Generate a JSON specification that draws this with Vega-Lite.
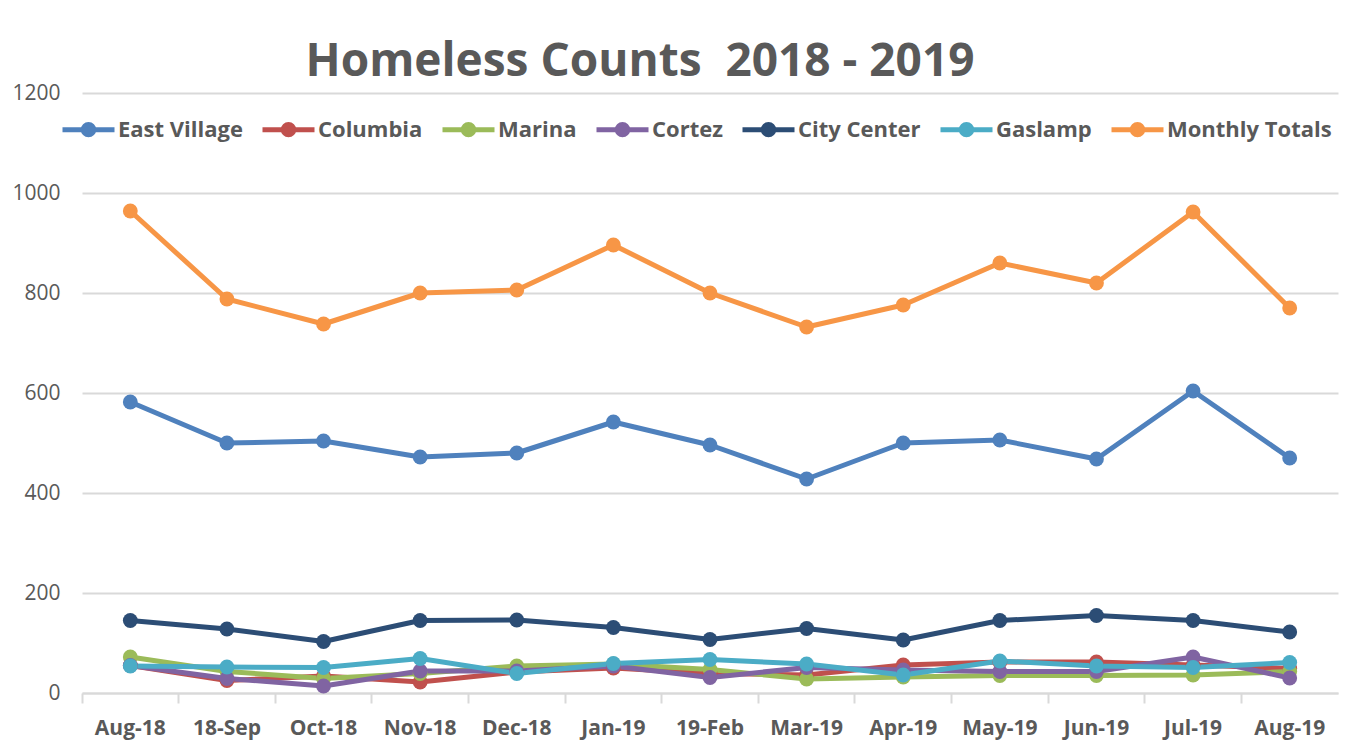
{
  "$schema": "https://vega.github.io/schema/vega-lite/v6.json",
  "autosize": "none",
  "width": 1256,
  "height": 600,
  "padding": {"left": 82, "top": 93, "right": 11, "bottom": 51},
  "background": "white",
  "title": {
    "text": "Homeless Counts\u00a0\u00a02018 - 2019",
    "font": "Open Sans",
    "fontSize": 46,
    "fontWeight": "bold",
    "color": "#595959",
    "anchor": "middle",
    "dx": -70,
    "offset": -4
  },
  "config": {
    "view": {"stroke": null},
    "font": "Open Sans"
  },
  "data": {
    "values": [
      {"month": "Aug-18", "series": "East Village", "count": 582},
      {"month": "18-Sep", "series": "East Village", "count": 500},
      {"month": "Oct-18", "series": "East Village", "count": 504},
      {"month": "Nov-18", "series": "East Village", "count": 472},
      {"month": "Dec-18", "series": "East Village", "count": 480},
      {"month": "Jan-19", "series": "East Village", "count": 542},
      {"month": "19-Feb", "series": "East Village", "count": 496},
      {"month": "Mar-19", "series": "East Village", "count": 428},
      {"month": "Apr-19", "series": "East Village", "count": 500},
      {"month": "May-19", "series": "East Village", "count": 506},
      {"month": "Jun-19", "series": "East Village", "count": 468},
      {"month": "Jul-19", "series": "East Village", "count": 604},
      {"month": "Aug-19", "series": "East Village", "count": 470},
      {"month": "Aug-18", "series": "Columbia", "count": 55},
      {"month": "18-Sep", "series": "Columbia", "count": 25},
      {"month": "Oct-18", "series": "Columbia", "count": 34},
      {"month": "Nov-18", "series": "Columbia", "count": 22},
      {"month": "Dec-18", "series": "Columbia", "count": 42},
      {"month": "Jan-19", "series": "Columbia", "count": 50},
      {"month": "19-Feb", "series": "Columbia", "count": 39},
      {"month": "Mar-19", "series": "Columbia", "count": 36},
      {"month": "Apr-19", "series": "Columbia", "count": 56},
      {"month": "May-19", "series": "Columbia", "count": 62},
      {"month": "Jun-19", "series": "Columbia", "count": 62},
      {"month": "Jul-19", "series": "Columbia", "count": 56},
      {"month": "Aug-19", "series": "Columbia", "count": 49},
      {"month": "Aug-18", "series": "Marina", "count": 72},
      {"month": "18-Sep", "series": "Marina", "count": 43},
      {"month": "Oct-18", "series": "Marina", "count": 29},
      {"month": "Nov-18", "series": "Marina", "count": 39},
      {"month": "Dec-18", "series": "Marina", "count": 54},
      {"month": "Jan-19", "series": "Marina", "count": 58},
      {"month": "19-Feb", "series": "Marina", "count": 47},
      {"month": "Mar-19", "series": "Marina", "count": 28},
      {"month": "Apr-19", "series": "Marina", "count": 32},
      {"month": "May-19", "series": "Marina", "count": 35},
      {"month": "Jun-19", "series": "Marina", "count": 35},
      {"month": "Jul-19", "series": "Marina", "count": 36},
      {"month": "Aug-19", "series": "Marina", "count": 43},
      {"month": "Aug-18", "series": "Cortez", "count": 55},
      {"month": "18-Sep", "series": "Cortez", "count": 29},
      {"month": "Oct-18", "series": "Cortez", "count": 14},
      {"month": "Nov-18", "series": "Cortez", "count": 44},
      {"month": "Dec-18", "series": "Cortez", "count": 44},
      {"month": "Jan-19", "series": "Cortez", "count": 54},
      {"month": "19-Feb", "series": "Cortez", "count": 31},
      {"month": "Mar-19", "series": "Cortez", "count": 51},
      {"month": "Apr-19", "series": "Cortez", "count": 46},
      {"month": "May-19", "series": "Cortez", "count": 43},
      {"month": "Jun-19", "series": "Cortez", "count": 43},
      {"month": "Jul-19", "series": "Cortez", "count": 72},
      {"month": "Aug-19", "series": "Cortez", "count": 30},
      {"month": "Aug-18", "series": "City Center", "count": 145},
      {"month": "18-Sep", "series": "City Center", "count": 128},
      {"month": "Oct-18", "series": "City Center", "count": 103},
      {"month": "Nov-18", "series": "City Center", "count": 145},
      {"month": "Dec-18", "series": "City Center", "count": 146},
      {"month": "Jan-19", "series": "City Center", "count": 131},
      {"month": "19-Feb", "series": "City Center", "count": 107},
      {"month": "Mar-19", "series": "City Center", "count": 129},
      {"month": "Apr-19", "series": "City Center", "count": 106},
      {"month": "May-19", "series": "City Center", "count": 145},
      {"month": "Jun-19", "series": "City Center", "count": 155},
      {"month": "Jul-19", "series": "City Center", "count": 145},
      {"month": "Aug-19", "series": "City Center", "count": 122},
      {"month": "Aug-18", "series": "Gaslamp", "count": 54},
      {"month": "18-Sep", "series": "Gaslamp", "count": 52},
      {"month": "Oct-18", "series": "Gaslamp", "count": 51},
      {"month": "Nov-18", "series": "Gaslamp", "count": 69},
      {"month": "Dec-18", "series": "Gaslamp", "count": 39},
      {"month": "Jan-19", "series": "Gaslamp", "count": 59},
      {"month": "19-Feb", "series": "Gaslamp", "count": 67},
      {"month": "Mar-19", "series": "Gaslamp", "count": 58},
      {"month": "Apr-19", "series": "Gaslamp", "count": 36},
      {"month": "May-19", "series": "Gaslamp", "count": 64},
      {"month": "Jun-19", "series": "Gaslamp", "count": 54},
      {"month": "Jul-19", "series": "Gaslamp", "count": 51},
      {"month": "Aug-19", "series": "Gaslamp", "count": 61},
      {"month": "Aug-18", "series": "Monthly Totals", "count": 964},
      {"month": "18-Sep", "series": "Monthly Totals", "count": 788},
      {"month": "Oct-18", "series": "Monthly Totals", "count": 738},
      {"month": "Nov-18", "series": "Monthly Totals", "count": 800},
      {"month": "Dec-18", "series": "Monthly Totals", "count": 806},
      {"month": "Jan-19", "series": "Monthly Totals", "count": 896},
      {"month": "19-Feb", "series": "Monthly Totals", "count": 800},
      {"month": "Mar-19", "series": "Monthly Totals", "count": 732},
      {"month": "Apr-19", "series": "Monthly Totals", "count": 776},
      {"month": "May-19", "series": "Monthly Totals", "count": 860},
      {"month": "Jun-19", "series": "Monthly Totals", "count": 820},
      {"month": "Jul-19", "series": "Monthly Totals", "count": 962},
      {"month": "Aug-19", "series": "Monthly Totals", "count": 770}
    ]
  },
  "encoding": {
    "x": {
      "field": "month",
      "type": "nominal",
      "sort": ["Aug-18", "18-Sep", "Oct-18", "Nov-18", "Dec-18", "Jan-19", "19-Feb", "Mar-19", "Apr-19", "May-19", "Jun-19", "Jul-19", "Aug-19"],
      "scale": {"type": "band", "paddingInner": 0, "paddingOuter": 0},
      "axis": {
        "title": null,
        "labelAngle": 0,
        "labelFont": "Open Sans",
        "labelFontSize": 21,
        "labelFontWeight": "bold",
        "labelColor": "#595959",
        "labelPadding": 14,
        "domainColor": "#d9d9d9",
        "domainWidth": 2,
        "tickColor": "#d9d9d9",
        "tickWidth": 2,
        "tickSize": 10,
        "bandPosition": 0,
        "grid": false
      }
    },
    "y": {
      "field": "count",
      "type": "quantitative",
      "scale": {"domain": [0, 1200], "nice": false},
      "axis": {
        "title": null,
        "values": [0, 200, 400, 600, 800, 1000, 1200],
        "format": "d",
        "labelFont": "Open Sans",
        "labelFontSize": 21,
        "labelColor": "#595959",
        "labelPadding": 22,
        "domain": false,
        "ticks": false,
        "gridColor": "#d9d9d9",
        "gridWidth": 2
      }
    },
    "color": {
      "field": "series",
      "type": "nominal",
      "sort": ["East Village", "Columbia", "Marina", "Cortez", "City Center", "Gaslamp", "Monthly Totals"],
      "scale": {
        "domain": ["East Village", "Columbia", "Marina", "Cortez", "City Center", "Gaslamp", "Monthly Totals"],
        "range": ["#4f81bd", "#c0504d", "#9bbb59", "#8064a2", "#2c4d75", "#4bacc6", "#f79646"]
      },
      "legend": {
        "title": null,
        "orient": "none",
        "direction": "horizontal",
        "legendX": -22,
        "legendY": 8,
        "columnPadding": 9,
        "symbolType": "M-1,0L1,0M0.2,0A0.2,0.2,0,1,1,-0.2,0A0.2,0.2,0,1,1,0.2,0Z",
        "symbolSize": 2704,
        "symbolStrokeWidth": 5,
        "symbolOffset": 0,
        "labelOffset": 1,
        "labelFont": "Open Sans",
        "labelFontSize": 22,
        "labelFontWeight": "bold",
        "labelColor": "#595959",
        "labelLimit": 400,
        "encode": {
          "symbols": {
            "update": {
              "fill": {"scale": "color", "field": "value"},
              "stroke": {"scale": "color", "field": "value"},
              "opacity": {"value": 1}
            }
          }
        }
      }
    }
  },
  "layer": [
    {
      "mark": {"type": "line", "strokeWidth": 5, "strokeJoin": "round"}
    },
    {
      "mark": {"type": "point", "filled": true, "size": 220, "opacity": 1, "shape": "circle"}
    }
  ]
}
